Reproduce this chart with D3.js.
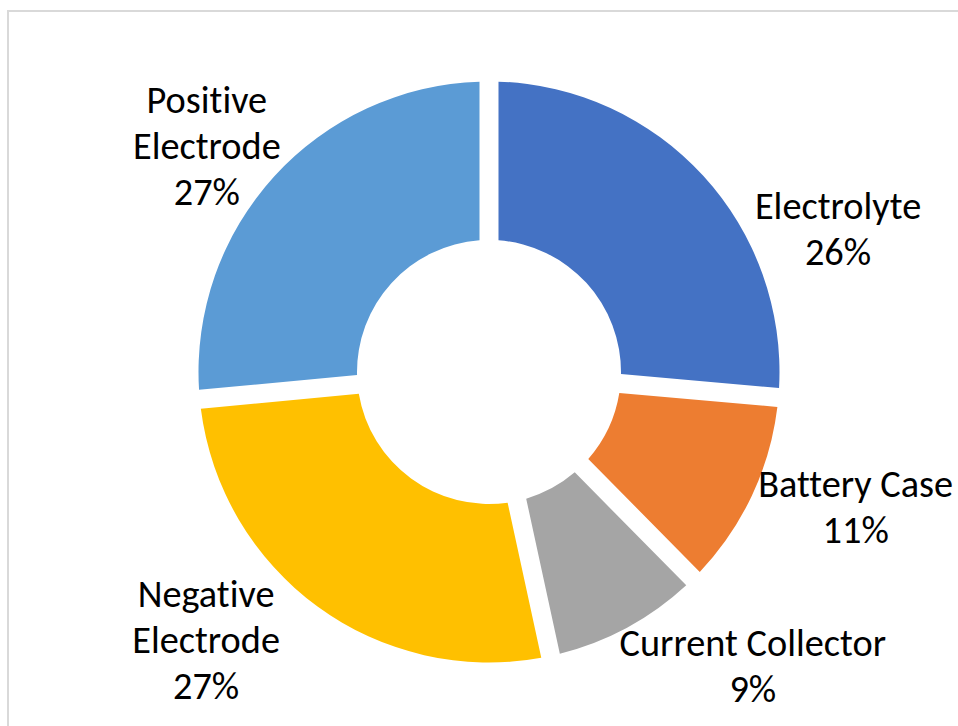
<!DOCTYPE html>
<html>
<head>
<meta charset="utf-8">
<script src="https://cdn.jsdelivr.net/npm/d3@7"></script>
<style>
  html, body { margin: 0; padding: 0; background: #fff; }
  svg { display: block; }
  text { font-variant-ligatures: none; }
</style>
</head>
<body>
<div id="chart"></div>
<script>
const categories = ["Electrolyte", "Battery Case", "Current Collector", "Negative Electrode", "Positive Electrode"];
const shares = [26.4, 11.2, 9.0, 26.9, 26.5];
// how the labels wrap in the picture
const labelLines = [["Electrolyte"], ["Battery Case"], ["Current Collector"], ["Negative", "Electrode"], ["Positive", "Electrode"]];
const colors = ["#4472C4", "#ED7D31", "#A5A5A5", "#FFC000", "#5B9BD5"];

const width = 958;
const height = 726;
const cx = 489, cy = 372;
const outerR = 290.5, innerR = 132;
const gap = 19; // white gap between slices

// label placement around the ring (degrees clockwise from top, distance from centre)
const labelPolar = [[67.8, 377], [110.3, 391], [138.1, 395], [226.5, 390], [308.6, 361]];

const svg = d3.select('#chart')
    .append('svg')
    .attr('width', width)
    .attr('height', height);

// light grey frame of the chart area (runs off the page right and bottom)
svg.append('rect')
    .attr('x', 8)
    .attr('y', 11)
    .attr('width', width + 20)
    .attr('height', height + 20)
    .attr('fill', 'none')
    .attr('stroke', '#d9d9d9')
    .attr('stroke-width', 2);

const pie = d3.pie()
    .value(d => d)
    .sort(null);

const arc = d3.arc()
    .innerRadius(innerR)
    .outerRadius(outerR)
    .padRadius(outerR)
    .padAngle(gap / outerR);

const g = svg.append('g')
    .attr('transform', `translate(${cx}, ${cy})`);

const arcs = pie(shares);

g.selectAll('path')
    .data(arcs)
    .enter()
    .append('path')
    .attr('d', arc)
    .attr('fill', (d, i) => colors[i]);

// labels: name lines plus rounded percentage
const fontSize = 38.3;
const lineH = 46;

const labels = g.selectAll('text.lbl')
    .data(arcs)
    .enter()
    .append('text')
    .attr('class', 'lbl')
    .attr('text-anchor', 'middle')
    .attr('font-family', "Carlito, Calibri, 'Liberation Sans', sans-serif")
    .attr('font-size', fontSize)
    .attr('fill', '#000');

labels.each(function (d, i) {
    const lines = labelLines[i].concat([Math.round(shares[i]) + '%']);
    const a = labelPolar[i][0] * Math.PI / 180;
    const r = labelPolar[i][1];
    const x = r * Math.sin(a);
    const y = -r * Math.cos(a);
    const n = lines.length;
    d3.select(this).selectAll('tspan')
        .data(lines)
        .enter()
        .append('tspan')
        .attr('x', x)
        .attr('y', (t, k) => y + (k - (n - 1) / 2) * lineH + fontSize * 0.33)
        .text(t => t);
});
</script>
</body>
</html>
